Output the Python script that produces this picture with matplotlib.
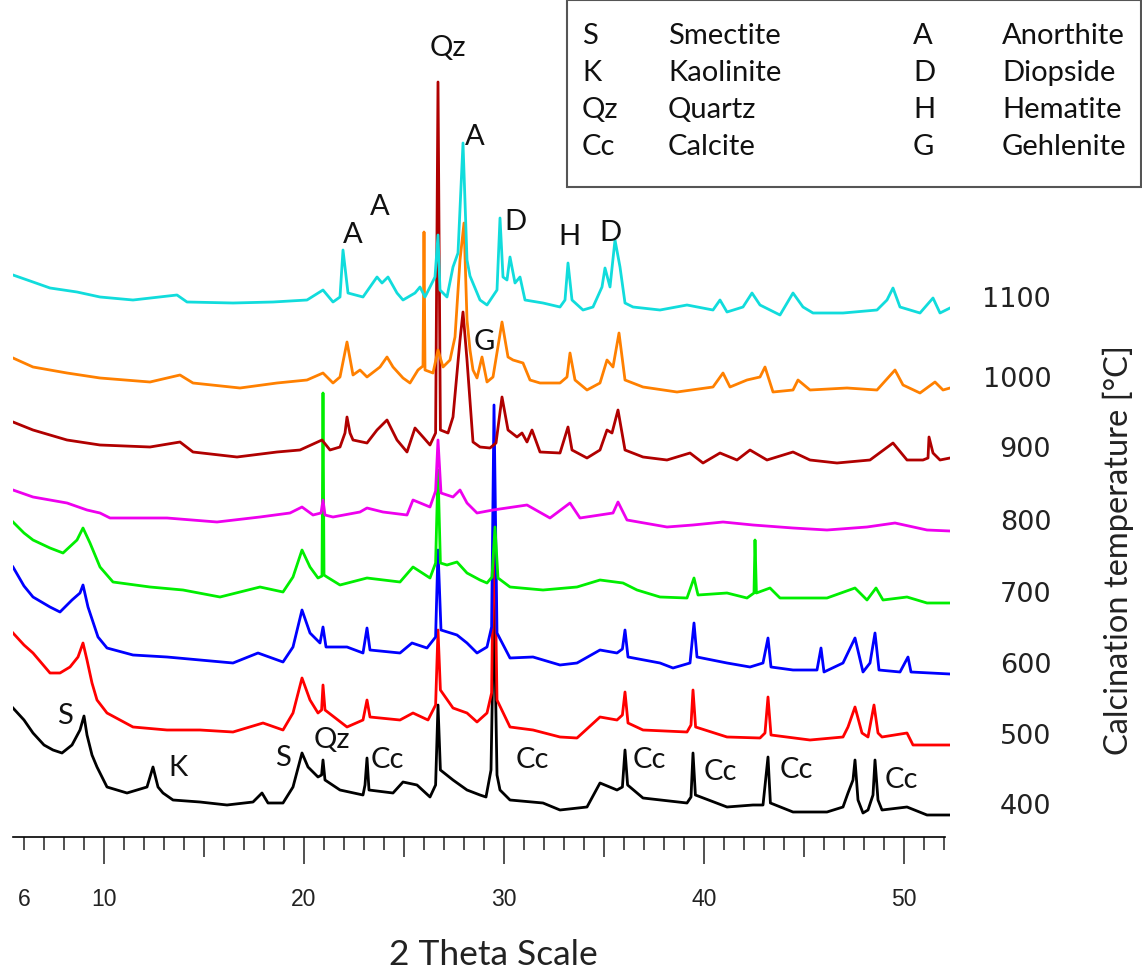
import numpy as np
import matplotlib
matplotlib.use("Agg")
import matplotlib.pyplot as plt
from matplotlib.patches import Rectangle

# XRD patterns, (2theta, intensity above each pattern's own baseline)
xrd_400 = [(5.45, 107), (6.0, 95), (6.45, 82), (7.0, 70), (7.45, 65), (7.9, 62), (8.4, 70), (8.8, 85),
           (9.0, 99), (9.15, 80), (9.4, 60), (9.65, 48), (10.15, 28), (11.15, 22), (12.15, 28), (12.45, 48),
           (12.7, 28), (12.95, 22), (13.45, 15), (14.8, 13), (16.15, 10), (17.45, 13), (17.9, 22), (18.2, 12),
           (18.95, 12), (19.45, 28), (19.9, 62), (20.2, 48), (20.7, 38), (20.88, 40), (20.95, 55), (21.05, 35),
           (21.8, 25), (22.95, 20), (23.05, 30), (23.15, 57), (23.25, 25), (24.45, 22), (24.95, 33), (25.65, 30),
           (26.3, 18), (26.58, 30), (26.7, 110), (26.82, 45), (27.45, 35), (28.15, 25), (28.8, 20), (29.1, 18),
           (29.35, 45), (29.5, 215), (29.65, 40), (29.8, 25), (30.3, 15), (31.95, 12), (32.8, 5), (34.15, 8),
           (34.8, 32), (35.65, 25), (35.92, 28), (36.05, 65), (36.18, 30), (36.95, 17), (39.15, 12), (39.35, 18),
           (39.45, 62), (39.57, 20), (41.15, 8), (42.45, 10), (42.95, 10), (43.2, 58), (43.32, 12), (44.45, 3),
           (46.15, 3), (46.95, 8), (47.2, 22), (47.45, 35), (47.55, 55), (47.7, 15), (47.95, 2), (48.2, 5),
           (48.45, 20), (48.55, 55), (48.7, 15), (48.9, 5), (50.15, 8), (51.15, 0), (52.3, 0)]

xrd_500 = [(5.45, 112), (6.0, 100), (6.45, 92), (7.3, 72), (7.8, 72), (8.3, 78), (8.7, 88), (8.95, 102),
           (9.15, 85), (9.4, 62), (9.65, 45), (10.15, 32), (11.45, 18), (13.15, 15), (14.8, 15), (16.45, 13),
           (17.95, 22), (18.95, 15), (19.45, 32), (19.9, 67), (20.3, 45), (20.7, 32), (20.88, 35), (20.95, 60),
           (21.05, 35), (22.15, 18), (22.95, 25), (23.15, 45), (23.3, 28), (24.8, 25), (25.45, 32), (26.2, 25),
           (26.58, 40), (26.7, 115), (26.82, 55), (27.45, 37), (28.15, 32), (28.65, 23), (29.15, 32), (29.38, 52),
           (29.5, 245), (29.65, 45), (30.3, 18), (31.45, 15), (32.8, 8), (33.65, 7), (34.8, 28), (35.65, 25),
           (35.92, 30), (36.05, 53), (36.2, 22), (36.95, 15), (39.15, 13), (39.35, 20), (39.45, 55), (39.58, 18),
           (41.15, 8), (42.8, 7), (43.05, 12), (43.2, 48), (43.35, 10), (45.3, 5), (46.95, 8), (47.2, 18),
           (47.55, 38), (47.9, 12), (48.2, 8), (48.5, 40), (48.7, 12), (48.9, 8), (50.15, 12), (50.45, 0),
           (52.3, 0)]

xrd_600 = [(5.45, 107), (6.0, 88), (6.45, 77), (7.3, 67), (7.8, 62), (8.4, 74), (8.8, 81), (8.95, 89),
           (9.2, 67), (9.7, 37), (10.15, 26), (11.45, 19), (13.15, 17), (14.8, 14), (16.45, 11), (17.7, 21),
           (18.95, 12), (19.45, 27), (19.9, 64), (20.3, 41), (20.8, 31), (20.95, 47), (21.1, 27), (22.15, 27),
           (22.95, 21), (23.15, 46), (23.3, 24), (24.8, 21), (25.4, 31), (26.15, 26), (26.58, 37), (26.7, 124),
           (26.85, 44), (27.65, 39), (28.15, 31), (28.65, 21), (29.15, 27), (29.38, 47), (29.5, 269), (29.65, 41),
           (30.3, 16), (31.45, 17), (32.8, 9), (33.65, 11), (34.8, 24), (35.65, 21), (35.92, 25), (36.05, 44),
           (36.2, 17), (37.8, 11), (38.45, 6), (39.3, 11), (39.5, 51), (39.65, 17), (41.15, 11), (42.3, 7),
           (42.95, 11), (43.2, 36), (43.35, 7), (44.45, 4), (45.65, 4), (45.85, 26), (46.0, 2), (46.95, 11),
           (47.55, 36), (47.95, 2), (48.3, 11), (48.55, 41), (48.75, 4), (49.8, 2), (50.2, 17), (50.35, 2),
           (52.3, 0)]

xrd_700 = [(5.45, 81), (6.0, 70), (6.45, 63), (7.3, 55), (7.95, 50), (8.65, 63), (8.95, 75), (9.3, 60),
           (9.8, 36), (10.45, 21), (12.3, 16), (13.95, 13), (15.8, 6), (17.8, 16), (18.95, 11), (19.45, 26),
           (19.9, 53), (20.3, 36), (20.7, 25), (20.9, 27), (20.95, 210), (21.0, 28), (21.15, 26), (21.8, 18),
           (23.15, 25), (24.8, 21), (25.45, 36), (26.3, 25), (26.58, 40), (26.7, 133), (26.82, 40), (27.15, 38),
           (27.65, 41), (28.15, 30), (28.8, 23), (29.15, 20), (29.4, 26), (29.55, 76), (29.7, 25), (30.3, 16),
           (31.95, 13), (33.65, 16), (34.8, 23), (35.95, 20), (36.65, 13), (37.8, 6), (39.15, 5), (39.5, 25),
           (39.7, 8), (41.15, 10), (42.15, 5), (42.5, 10), (42.55, 63), (42.62, 10), (43.3, 15), (43.8, 5),
           (46.15, 5), (47.55, 15), (48.15, 3), (48.6, 15), (48.95, 3), (50.15, 6), (51.15, 0), (52.3, 0)]

xrd_800 = [(5.45, 41), (6.45, 34), (8.15, 28), (9.15, 21), (9.8, 18), (10.3, 13), (13.15, 13), (15.65, 9),
           (17.8, 14), (19.3, 18), (19.9, 24), (20.45, 16), (20.85, 18), (20.95, 31), (21.05, 16), (21.45, 14),
           (22.8, 19), (23.15, 23), (23.95, 19), (25.15, 16), (25.45, 31), (26.3, 24), (26.58, 40), (26.7, 91),
           (26.85, 38), (27.45, 34), (27.8, 41), (28.15, 28), (28.65, 18), (29.45, 21), (31.15, 26), (32.3, 13),
           (33.3, 28), (33.8, 13), (35.45, 18), (35.7, 29), (36.15, 11), (38.15, 4), (39.45, 6), (40.95, 9),
           (42.45, 6), (44.45, 3), (46.15, 1), (48.15, 4), (49.55, 8), (51.15, 1), (52.3, 0)]

xrd_900 = [(5.45, 36), (6.45, 28), (8.15, 18), (9.8, 13), (12.3, 11), (13.8, 16), (14.45, 6), (16.65, 1),
           (18.65, 6), (19.8, 8), (20.9, 18), (21.3, 8), (21.8, 11), (22.05, 25), (22.15, 41), (22.3, 25),
           (22.45, 18), (23.15, 15), (23.65, 28), (24.15, 38), (24.65, 18), (25.15, 6), (25.55, 30), (25.95, 21),
           (26.3, 13), (26.58, 25), (26.7, 376), (26.82, 28), (27.2, 25), (27.45, 41), (27.8, 118), (27.95, 146),
           (28.15, 98), (28.45, 16), (28.8, 11), (29.3, 10), (29.6, 15), (29.9, 61), (30.2, 28), (30.65, 21),
           (30.9, 25), (31.15, 16), (31.4, 28), (31.8, 6), (32.8, 5), (33.2, 31), (33.4, 8), (34.15, 0),
           (34.8, 8), (35.15, 28), (35.4, 25), (35.7, 48), (36.05, 8), (36.95, 1), (38.15, -2), (39.3, 5),
           (39.95, -5), (40.8, 5), (41.65, -2), (42.3, 8), (43.15, -2), (44.45, 6), (45.3, -2), (46.65, -5),
           (48.3, -2), (49.45, 15), (50.15, -2), (50.95, -2), (51.2, 0), (51.25, 21), (51.45, 5), (51.8, -2),
           (52.3, 0)]

xrd_1000 = [(5.45, 30), (6.45, 21), (8.15, 15), (9.8, 10), (12.3, 6), (13.8, 13), (14.45, 5), (16.8, 0),
            (18.65, 5), (20.15, 8), (20.95, 15), (21.45, 5), (21.8, 11), (22.15, 46), (22.45, 13), (22.8, 18),
            (23.15, 11), (23.8, 21), (24.15, 31), (24.45, 21), (24.95, 10), (25.3, 5), (25.7, 18), (25.95, 22),
            (26.0, 156), (26.05, 18), (26.45, 15), (26.7, 38), (26.95, 21), (27.3, 28), (27.55, 51), (27.8, 128),
            (28.0, 165), (28.15, 68), (28.3, 38), (28.45, 18), (28.65, 10), (28.9, 31), (29.15, 6), (29.45, 11),
            (29.9, 66), (30.2, 31), (30.45, 28), (30.95, 25), (31.3, 8), (31.8, 5), (32.8, 5), (33.15, 11),
            (33.3, 35), (33.55, 8), (34.15, -2), (34.8, 5), (35.15, 28), (35.45, 21), (35.75, 55), (36.05, 8),
            (36.95, 1), (38.65, -4), (40.45, 1), (40.95, 15), (41.3, 1), (42.15, 8), (42.8, 11), (43.05, 21),
            (43.45, -4), (44.45, -2), (44.7, 8), (45.3, -2), (47.15, 0), (48.65, -2), (49.55, 18), (49.95, 3),
            (50.8, -5), (51.55, 6), (51.95, -2), (52.3, 0)]

xrd_1100 = [(5.45, 33), (6.45, 26), (7.3, 20), (8.65, 16), (9.8, 11), (11.45, 8), (13.65, 13), (14.15, 6),
            (16.45, 5), (18.45, 6), (20.15, 8), (20.95, 18), (21.45, 6), (21.8, 11), (21.95, 58), (22.2, 15),
            (22.95, 11), (23.65, 31), (23.9, 25), (24.2, 31), (24.65, 15), (24.95, 8), (25.55, 15), (25.8, 21),
            (26.05, 11), (26.55, 31), (26.7, 73), (26.8, 18), (27.15, 11), (27.45, 41), (27.7, 55), (27.95, 165),
            (28.15, 48), (28.3, 32), (28.8, 8), (29.15, 3), (29.65, 18), (29.8, 90), (29.95, 31), (30.15, 28),
            (30.3, 51), (30.55, 25), (30.8, 31), (31.05, 8), (31.95, 5), (32.8, 1), (33.05, 8), (33.2, 45),
            (33.4, 8), (33.95, -2), (34.45, 1), (34.9, 21), (35.05, 40), (35.3, 21), (35.55, 68), (35.8, 41),
            (36.05, 5), (36.45, 1), (37.8, -2), (39.15, 3), (40.45, -2), (40.8, 8), (41.15, -4), (41.95, 1),
            (42.4, 15), (42.8, 3), (43.3, -2), (43.8, -7), (44.45, 15), (44.95, 1), (45.45, -5), (46.95, -5),
            (48.65, -2), (49.15, 8), (49.45, 20), (49.8, 1), (50.8, -5), (51.45, 10), (51.8, -5), (52.3, 0)]

temps = ["400", "500", "600", "700", "800", "900", "1000", "1100"]
offsets = [22, 92, 163, 234, 306, 379, 449, 529]
patterns = [xrd_400, xrd_500, xrd_600, xrd_700, xrd_800, xrd_900, xrd_1000, xrd_1100]
colors = ["#000000", "#ff0000", "#0000ff", "#00ee00", "#ee00ee", "#b00000", "#ff8000", "#11dcdc"]

# phase markers: (label, 2theta, height on the plot)
markers = [("Qz", 27.2, 789), ("A", 28.55, 700), ("A", 22.45, 602), ("A", 23.8, 630),
           ("D", 30.55, 615), ("H", 33.25, 600), ("D", 35.3, 604), ("G", 29.0, 495),
           ("S", 8.05, 121), ("K", 13.7, 69), ("S", 18.95, 79), ("Qz", 21.4, 97),
           ("Cc", 24.15, 77), ("Cc", 31.4, 77), ("Cc", 37.25, 77), ("Cc", 40.8, 65),
           ("Cc", 44.6, 67), ("Cc", 49.85, 57)]

phase_abbr_1 = ["S", "K", "Qz", "Cc"]
phase_name_1 = ["Smectite", "Kaolinite", "Quartz", "Calcite"]
phase_abbr_2 = ["A", "D", "H", "G"]
phase_name_2 = ["Anorthite", "Diopside", "Hematite", "Gehlenite"]

tick_pos = [6, 10, 15, 20, 25, 30, 35, 40, 45, 50]
tick_lab = ["6", "10", "", "20", "", "30", "", "40", "", "50"]

W, H = 1142, 972
fig = plt.figure(figsize=(W / 100, H / 100), dpi=100)
ax = fig.add_axes([13 / W, (H - 837) / H, 937 / W, 837 / H])
ax.set_xlim(5.45, 52.3)
ax.set_ylim(0, 837)

for i, (pat, off, col) in enumerate(zip(patterns, offsets, colors)):
    arr = np.array(pat, dtype=float)
    ax.plot(arr[:, 0], arr[:, 1] + off, color=col, lw=2.0, zorder=2 + i)

txt = dict(family="Lato", fontsize=21, color="#111111")
for lab, tt, yy in markers:
    ax.text(tt, yy, lab, ha="center", va="center", zorder=20, **txt)

for t, off in zip(temps, offsets):
    ax.annotate(t, xy=(1.108, off + 8), xycoords=("axes fraction", "data"),
                ha="right", va="center", fontsize=19.5, family="DejaVu Sans",
                color="#222222", annotation_clip=False)

fig.text(1118 / W, 1 - 550 / H, "Calcination temperature [°C]", rotation=90,
         ha="center", va="center", fontsize=23.5, family="Lato", color="#222222")
fig.text(493 / W, 1 - 955 / H, "2 Theta Scale", ha="center", va="center",
         fontsize=25.5, family="Lato", color="#222222")

for s in ["left", "right", "top"]:
    ax.spines[s].set_visible(False)
ax.spines["bottom"].set_bounds(5.45, 52.05)
ax.spines["bottom"].set_linewidth(1.2)
ax.set_yticks([])

ax.set_xticks(tick_pos)
ax.set_xticks(np.arange(6, 53, 1), minor=True)
ax.tick_params(axis="x", which="major", length=19.5, width=1.1, pad=17, color="#222222")
ax.tick_params(axis="x", which="minor", length=9.5, width=1.1, color="#222222")
for tk, pos in zip(ax.xaxis.get_major_ticks(), tick_pos):
    if pos % 10 == 5:
        tk.tick1line.set_markersize(14.5)
    elif pos % 10 != 0:
        tk.tick1line.set_markersize(9.5)
ax.set_xticklabels(tick_lab, fontdict={"family": "Liberation Sans", "size": 16.5, "color": "#222222"})

# phase key box
fig.add_artist(Rectangle((567 / W, 1 - 187 / H), 574 / W, 187 / H, transform=fig.transFigure,
                         fill=False, edgecolor="#555555", lw=1.5))
rows = [36, 73, 110, 147]
for r, a1, n1, a2, n2 in zip(rows, phase_abbr_1, phase_name_1, phase_abbr_2, phase_name_2):
    yy = 1 - r / H
    fig.text(582 / W, yy, a1, ha="left", va="center", **txt)
    fig.text(668 / W, yy, n1, ha="left", va="center", **txt)
    fig.text(913 / W, yy, a2, ha="left", va="center", **txt)
    fig.text(1002 / W, yy, n2, ha="left", va="center", **txt)

fig.savefig("out.png", dpi=100)
